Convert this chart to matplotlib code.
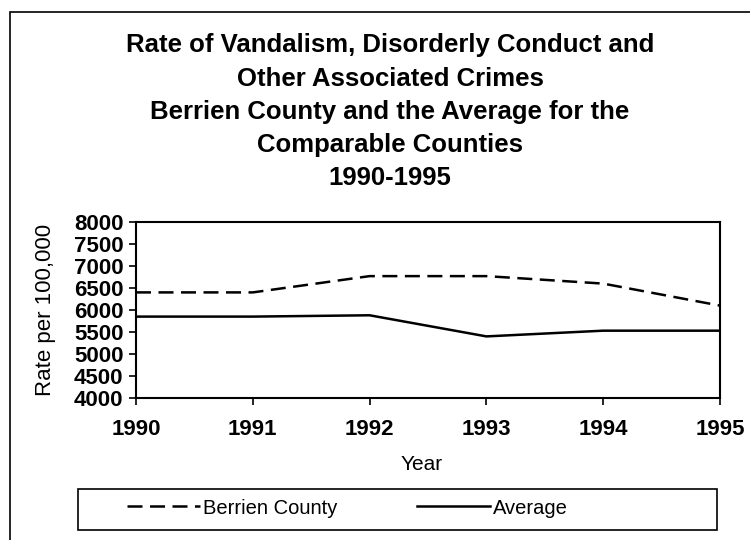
import matplotlib.pyplot as plt
from matplotlib.patches import Rectangle

# datos
years = [1990, 1991, 1992, 1993, 1994, 1995]
berrien = [6400, 6400, 6770, 6770, 6600, 6100]
average = [5850, 5850, 5880, 5400, 5530, 5530]

title_lines = ['Rate of Vandalism, Disorderly Conduct and',
               'Other Associated Crimes',
               'Berrien County and the Average for the',
               'Comparable Counties',
               '1990-1995']

plt.rcParams['font.family'] = ['Liberation Sans', 'DejaVu Sans']

fig = plt.figure(figsize=(7.5, 5.4), dpi=100)
W, H = 750, 540

# marco exterior (solo se ven izquierda y arriba)
fig.patches.append(Rectangle((10 / W, -0.1), 1.2, 1 - 12 / H + 0.1, transform=fig.transFigure,
                             fill=False, edgecolor='black', linewidth=1.2))

# titulo
title_y = [45, 79, 112, 145, 178]
for txt, y in zip(title_lines, title_y):
    fig.text(390 / W, 1 - y / H, txt, ha='center', va='center', fontsize=18.5, fontweight='bold')

ax = fig.add_axes([136 / W, 1 - 398 / H, (720 - 136) / W, (398 - 222) / H])
ax.plot(years, berrien, color='black', linewidth=1.8, linestyle=(0, (6, 3)), label='Berrien County')
ax.plot(years, average, color='black', linewidth=1.8, label='Average')

ax.set_xlim(1990, 1995)
ax.set_ylim(4000, 8000)
ax.set_yticks(range(4000, 8001, 500))
ax.set_xticks(years)
ax.tick_params(direction='out', length=5, width=1.2, labelsize=16)
ax.tick_params(axis='x', pad=10)
ax.tick_params(axis='y', pad=4)
for lab in ax.get_xticklabels() + ax.get_yticklabels():
    lab.set_fontweight('bold')
for s in ax.spines.values():
    s.set_linewidth(1.5)

ax.set_ylabel('Rate per 100,000', fontsize=16, labelpad=13)
fig.text(422 / W, 1 - 465 / H, 'Year', ha='center', va='center', fontsize=15)

# caja de la leyenda
fig.patches.append(Rectangle((78 / W, 1 - 530 / H), (717 - 78) / W, 41 / H, transform=fig.transFigure,
                             fill=False, edgecolor='black', linewidth=1.2))
leg = fig.legend(loc='center left', ncol=2, bbox_to_anchor=(127 / W, 1 - 508 / H),
                 fontsize=14.5, handlelength=3.6, handletextpad=0.15, columnspacing=4.0,
                 frameon=False, borderaxespad=0, borderpad=0)

fig.savefig('out.png', dpi=100)
